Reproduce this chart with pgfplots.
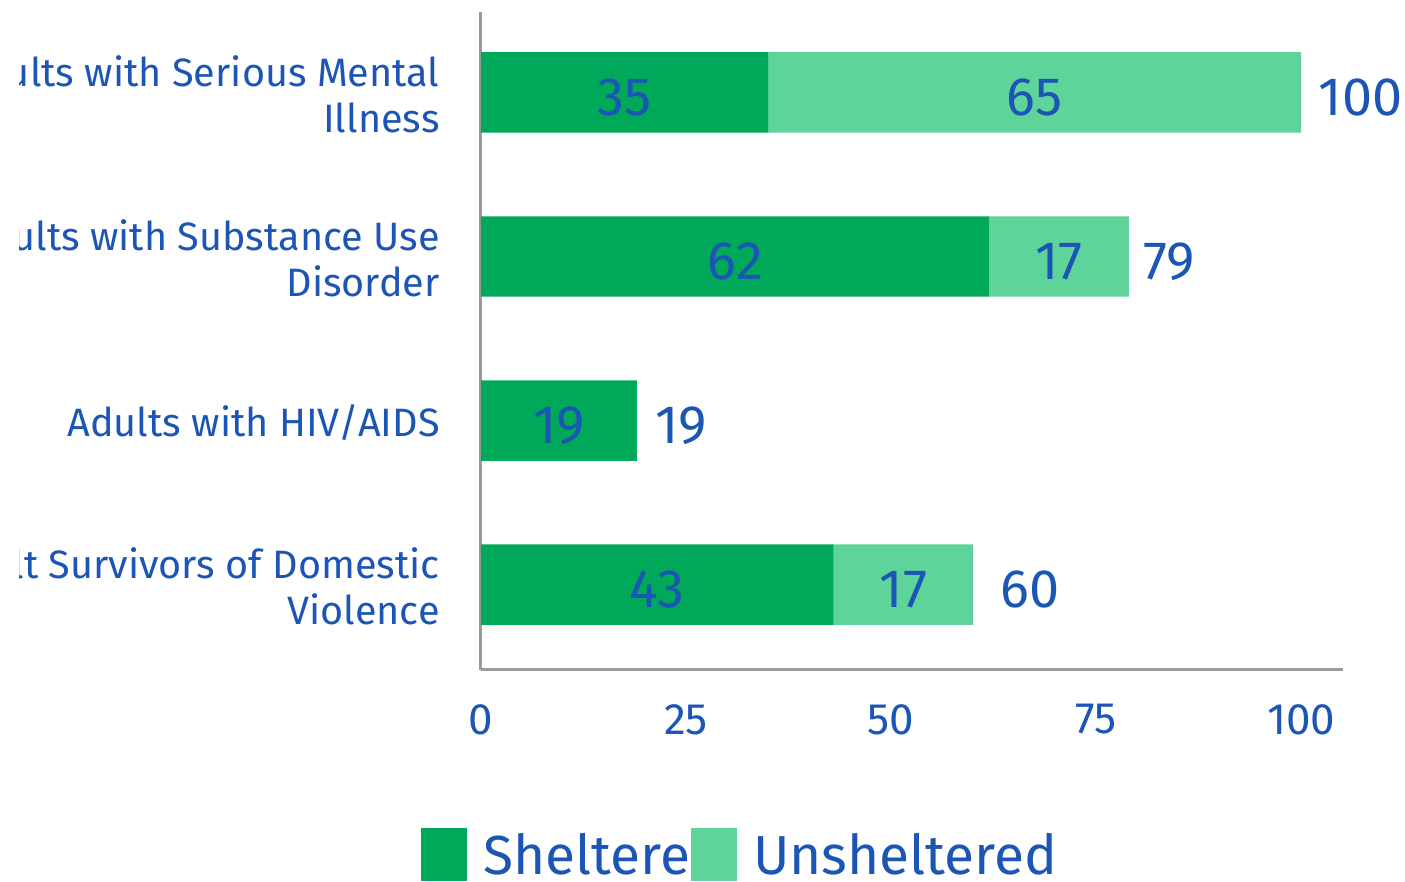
\documentclass[border=0pt]{standalone}
\usepackage{fontspec}
\setmainfont{Fira Sans}
\usepackage{pgfplots}
\pgfplotsset{compat=1.18}
\definecolor{cShel}{HTML}{00A859}
\definecolor{cUnsh}{HTML}{5FD49A}
\definecolor{cTxt}{HTML}{1B55B5}
\definecolor{cAxis}{HTML}{9A9A9A}
\tikzset{val/.style={font=\fontsize{27}{30}\selectfont, text=cTxt, yshift=-2.5pt},
         tot/.style={val, anchor=west, inner sep=0pt}}

\begin{document}
\begin{tikzpicture}
\path[use as bounding box] (-240.5pt,-106pt) rectangle (462pt,335pt);
% the long category names are cut at the left edge, as in the source
\clip (-230.5pt,-106pt) rectangle (462pt,335pt);
\begin{axis}[
    at={(0pt,0pt)}, anchor=south west,
    scale only axis, width=431pt, height=329pt,
    xbar stacked, bar width=0.49,
    xmin=0, xmax=105.1, ymin=-0.52, ymax=3.49,
    axis lines*=left,
    axis line style={-, cAxis, line width=1.5pt},
    major tick length=0pt,
    xtick={0,25,50,75,100},
    ytick={0,1,2,3},
    yticklabels={{Adult Survivors of Domestic\\Violence},{Adults with HIV/AIDS},{Adults with Substance Use\\Disorder},{Adults with Serious Mental\\Illness}},
    yticklabel style={align=right, font=\fontsize{19.8}{23}\selectfont, text=cTxt, inner sep=0pt, xshift=-20.5pt, yshift=-1pt},
    xticklabel style={font=\fontsize{22}{25}\selectfont, text=cTxt, inner sep=0pt, yshift=-17pt},
    /pgf/number format/assume math mode=true,
    legend columns=2,
    legend style={at={(-0.0696,-0.281)}, anchor=west, draw=none, fill=none, inner sep=0pt,
                  font=\fontsize{27.5}{30}\selectfont, text=cTxt,
                  nodes={inner xsep=8pt},
                  /tikz/every even column/.append style={column sep=-24pt}},
    legend image code/.code={\fill[#1] (0pt,-13pt) rectangle (23pt,13.5pt);},
]
\addplot[fill=cShel, draw=none] coordinates {(43,0) (19,1) (62,2) (35,3)};
\addlegendentry{Sheltered}
\addplot[fill=cUnsh, draw=none] coordinates {(17,0) (0,1) (17,2) (65,3)};
\addlegendentry{Unsheltered}

% label anchors; the labels themselves are set after the axis, above the stacked bars
\coordinate (a35) at (axis cs:17.5,3);
\coordinate (a65) at (axis cs:67.5,3);
\coordinate (a62) at (axis cs:31,2);
\coordinate (a17b) at (axis cs:70.5,2);
\coordinate (a19) at (axis cs:9.5,1);
\coordinate (a43) at (axis cs:21.5,0);
\coordinate (a17d) at (axis cs:51.5,0);
\coordinate (t100) at (axis cs:102.1,3);
\coordinate (t79) at (axis cs:80.7,2);
\coordinate (t19) at (axis cs:21.2,1);
\coordinate (t60) at (axis cs:63.3,0);
\end{axis}
\node[val] at (a35) {35};
\node[val] at (a65) {65};
\node[val] at (a62) {62};
\node[val] at (a17b) {17};
\node[val] at (a19) {19};
\node[val] at (a43) {43};
\node[val] at (a17d) {17};
\node[tot] at (t100) {100};
\node[tot] at (t79) {79};
\node[tot] at (t19) {19};
\node[tot] at (t60) {60};
\end{tikzpicture}
\end{document}
